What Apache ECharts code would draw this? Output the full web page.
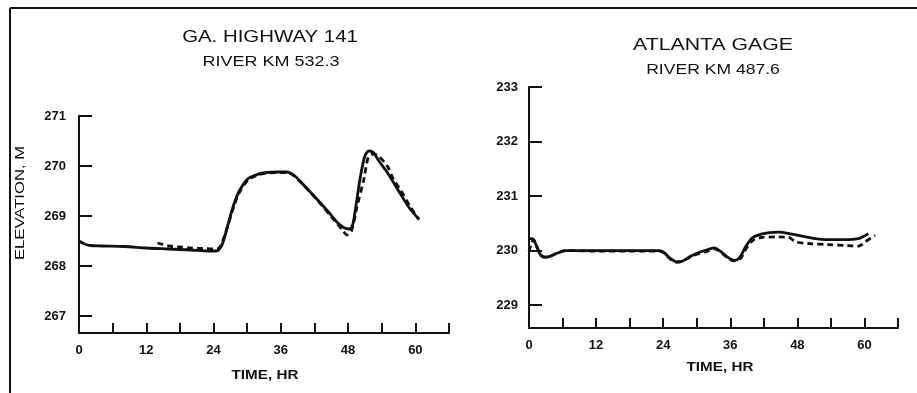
<!DOCTYPE html>
<html>
<head>
<meta charset="utf-8">
<script src="https://cdn.jsdelivr.net/npm/echarts@6/dist/echarts.min.js"></script>
<style>
  html, body { margin: 0; padding: 0; background: #fff; }
  #chart { width: 917px; height: 393px; }
</style>
</head>
<body>
<div id="chart"></div>
<script>
// GA. Highway 141 (river km 532.3): observed (solid) and computed (dashed) stage
const hwyObsTime = [0, 1, 2, 4, 8, 12, 16, 20, 23, 24.5, 25.5, 26.5, 27.5, 28.5, 30, 31.5, 33.5, 35.5, 37, 38.5, 40.5, 42.5, 44.5, 46, 47.2, 48.2, 48.8, 49.3, 50.2, 51.0, 51.7, 52.5, 53.5, 55, 57.3, 59, 60.7];
const hwyObsElev = [268.50, 268.44, 268.41, 268.40, 268.39, 268.36, 268.34, 268.32, 268.30, 268.30, 268.42, 268.80, 269.19, 269.48, 269.73, 269.82, 269.87, 269.88, 269.88, 269.80, 269.57, 269.33, 269.08, 268.88, 268.77, 268.74, 268.82, 269.13, 269.79, 270.20, 270.30, 270.27, 270.10, 269.87, 269.45, 269.15, 268.93];
const hwyCalcTime = [14, 16, 18, 20, 22, 24, 25, 26, 27.5, 28.5, 30, 31.5, 33.5, 37, 38.5, 42.5, 45.5, 47, 47.8, 48.6, 49.6, 50.8, 51.6, 52.5, 53.4, 55, 56.1, 57.3, 59, 60.5];
const hwyCalcElev = [268.46, 268.40, 268.38, 268.36, 268.35, 268.34, 268.36, 268.62, 269.15, 269.45, 269.70, 269.80, 269.86, 269.87, 269.79, 269.32, 268.92, 268.72, 268.62, 268.70, 269.19, 269.73, 270.17, 270.24, 270.20, 270.00, 269.73, 269.53, 269.20, 268.95];

// Atlanta gage (river km 487.6)
const atlObsTime = [0, 0.6, 1.2, 2.0, 2.8, 3.6, 5, 6.5, 12, 18, 23.3, 24.2, 25.2, 26.5, 27.5, 29, 30.5, 32, 33.2, 34.2, 35.5, 36.7, 37.6, 38.8, 40, 41.5, 43, 44.7, 47, 50.6, 53.6, 57, 58.9, 59.8, 60.7];
const atlObsElev = [230.22, 230.22, 230.12, 229.93, 229.88, 229.89, 229.95, 230.00, 230.00, 230.00, 230.00, 229.96, 229.86, 229.79, 229.81, 229.90, 229.97, 230.02, 230.05, 229.99, 229.88, 229.82, 229.86, 230.08, 230.24, 230.30, 230.33, 230.34, 230.30, 230.23, 230.20, 230.20, 230.22, 230.26, 230.31];
const atlCalcTime = [0, 0.4, 0.8, 1.3, 2, 2.8, 3.6, 5, 6.5, 12, 18, 23.3, 24.2, 25.2, 26.5, 27.5, 29, 30.5, 32, 33.2, 34.2, 35.5, 36.7, 37.8, 39, 40.2, 41.5, 44.7, 46.5, 47.7, 50, 53.6, 57, 58.9, 60.1, 61.9];
const atlCalcElev = [229.98, 230.12, 230.20, 230.10, 229.94, 229.88, 229.89, 229.95, 230.00, 229.99, 229.99, 229.99, 229.95, 229.85, 229.79, 229.81, 229.89, 229.95, 229.99, 230.03, 229.98, 229.87, 229.81, 229.85, 230.06, 230.20, 230.24, 230.25, 230.24, 230.16, 230.13, 230.11, 230.09, 230.08, 230.16, 230.28];

// Tick values
const timeLabels = [0, 12, 24, 36, 48, 60];
const timeTicks = [6, 12, 18, 24, 30, 36, 42, 48, 54, 60, 66];
const hwyElevTicks = [267, 268, 269, 270, 271];
const atlElevTicks = [229, 230, 231, 232, 233];

const zip = (xs, ys) => xs.map((x, i) => [x, ys[i]]);
const INK = '#111';
const FONT = 'Liberation Sans, Arial, sans-serif';

function xAxisFor(gridIndex) {
  return {
    type: 'value', gridIndex, min: 0, max: 66,
    axisLine: { lineStyle: { color: INK, width: 2 } },
    axisTick: { inside: true, length: 10, customValues: timeTicks, lineStyle: { color: INK, width: 2 } },
    axisLabel: { customValues: timeLabels, margin: 11, color: INK, fontSize: 13, fontWeight: 'bold', fontFamily: FONT },
    splitLine: { show: false }
  };
}
function yAxisFor(gridIndex, min, max, ticks, margin) {
  return {
    type: 'value', gridIndex, min, max,
    axisLine: { show: true, lineStyle: { color: INK, width: 2 } },
    axisTick: { inside: true, length: 13, customValues: ticks, lineStyle: { color: INK, width: 2 } },
    axisLabel: { customValues: ticks, margin, color: INK, fontSize: 13, fontWeight: 'bold', fontFamily: FONT },
    splitLine: { show: false }
  };
}
function lineSeries(idx, data, dashed) {
  return {
    type: 'line', xAxisIndex: idx, yAxisIndex: idx, data,
    smooth: 0.3, showSymbol: false, animation: false,
    lineStyle: { color: INK, width: 2.8, type: dashed ? [6, 4] : 'solid' },
    z: dashed ? 3 : 2
  };
}
// Caption text, stretched horizontally to give the wide lettering
function caption(x, y, str, size, weight, stretch, rotation) {
  return {
    type: 'text', x, y, rotation: rotation || 0, scaleX: stretch,
    style: {
      text: str, fill: INK, fontSize: size, fontWeight: weight, fontFamily: FONT,
      align: 'center', verticalAlign: 'middle'
    }
  };
}

const chart = echarts.init(document.getElementById('chart'), null, { renderer: 'canvas' });
chart.setOption({
  backgroundColor: '#fff',
  animation: false,
  grid: [
    { left: 79, right: 917 - 449, top: 116, bottom: 393 - 333 },
    { left: 529, right: 917 - 898, top: 87, bottom: 393 - 328 }
  ],
  xAxis: [xAxisFor(0), xAxisFor(1)],
  yAxis: [
    yAxisFor(0, 266.66, 271, hwyElevTicks, 13),
    yAxisFor(1, 228.58, 233, atlElevTicks, 11)
  ],
  series: [
    lineSeries(0, zip(hwyObsTime, hwyObsElev), false),
    lineSeries(0, zip(hwyCalcTime, hwyCalcElev), true),
    lineSeries(1, zip(atlObsTime, atlObsElev), false),
    lineSeries(1, zip(atlCalcTime, atlCalcElev), true)
  ],
  graphic: [
    // frame
    { type: 'line', shape: { x1: 10, y1: 8, x2: 917, y2: 8 }, style: { stroke: INK, lineWidth: 2 } },
    { type: 'line', shape: { x1: 10, y1: 8, x2: 10, y2: 393 }, style: { stroke: INK, lineWidth: 2 } },
    // titles
    caption(270, 37, 'GA. HIGHWAY 141', 17, 'normal', 1.2),
    caption(271, 62, 'RIVER KM 532.3', 15, 'normal', 1.2),
    caption(713, 45, 'ATLANTA GAGE', 17, 'normal', 1.25),
    caption(713, 70, 'RIVER KM 487.6', 15, 'normal', 1.17),
    // axis names
    caption(265, 376, 'TIME, HR', 12, 'bold', 1.27),
    caption(720, 368, 'TIME, HR', 12, 'bold', 1.27),
    { type: 'text', x: 20, y: 203, rotation: Math.PI / 2, scaleX: 1.28,
      style: { text: 'ELEVATION, M', fill: INK, fontSize: 13, fontFamily: FONT, align: 'center', verticalAlign: 'middle' } }
  ]
});
</script>
</body>
</html>
